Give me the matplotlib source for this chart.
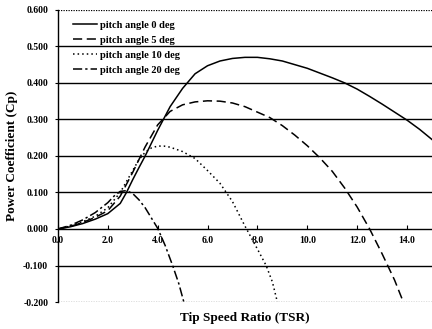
import matplotlib
matplotlib.use("Agg")
import matplotlib.pyplot as plt

plt.rcParams['font.family'] = ['Liberation Serif', 'DejaVu Serif']
plt.rcParams['font.weight'] = 'bold'
plt.rcParams['axes.unicode_minus'] = False

# (TSR, Cp)
tsr_0 = [0, 0.5, 1.0, 1.5, 2.0, 2.5, 2.75, 3.0, 3.25, 3.5, 4.0, 4.5, 5.0,
         5.5, 6.0, 6.5, 7.0, 7.5, 8.0, 8.5, 9.0, 9.5, 10.0, 10.5, 11.0,
         11.5, 12.0, 12.5, 13.0, 13.5, 14.0, 14.5, 15.0]
cp_0 = [0, 0.006, 0.015, 0.027, 0.042, 0.07, 0.1, 0.135, 0.168, 0.2, 0.27,
        0.335, 0.385, 0.425, 0.447, 0.46, 0.467, 0.47, 0.47, 0.466, 0.46,
        0.45, 0.44, 0.427, 0.414, 0.4, 0.383, 0.363, 0.342, 0.32, 0.298,
        0.273, 0.245]

tsr_5 = [0, 0.5, 1.0, 1.5, 2.0, 2.5, 3.0, 3.5, 4.0, 4.5, 5.0, 5.5, 6.0,
         6.5, 7.0, 7.5, 8.0, 8.5, 9.0, 9.5, 10.0, 10.5, 11.0, 11.5, 12.0,
         12.5, 13.0, 13.5, 13.85]
cp_5 = [0, 0.007, 0.018, 0.032, 0.05, 0.09, 0.155, 0.225, 0.285, 0.322,
        0.34, 0.348, 0.351, 0.35, 0.345, 0.335, 0.32, 0.305, 0.283, 0.257,
        0.228, 0.195, 0.158, 0.112, 0.06, 0.0, -0.068, -0.14, -0.2]

tsr_10 = [0, 0.5, 1.0, 1.5, 2.0, 2.5, 3.0, 3.25, 3.5, 3.75, 4.0, 4.25, 4.5,
          5.0, 5.5, 6.0, 6.5, 7.0, 7.5, 8.0, 8.35, 8.6, 8.8]
cp_10 = [0, 0.008, 0.02, 0.035, 0.058, 0.1, 0.16, 0.19, 0.21, 0.222, 0.227,
         0.227, 0.224, 0.212, 0.193, 0.16, 0.125, 0.075, 0.008, -0.055, -0.1,
         -0.145, -0.2]

tsr_20 = [0, 0.5, 1.0, 1.5, 2.0, 2.25, 2.5, 2.75, 3.0, 3.25, 3.5, 3.75, 4.0,
          4.3, 4.6, 4.85, 5.05]
cp_20 = [0, 0.01, 0.025, 0.045, 0.072, 0.09, 0.103, 0.105, 0.097, 0.08,
         0.058, 0.03, 0.002, -0.045, -0.1, -0.15, -0.2]

labels = ["pitch angle 0 deg", "pitch angle 5 deg", "pitch angle 10 deg",
          "pitch angle 20 deg"]
y_ticks = [-0.2, -0.1, 0.0, 0.1, 0.2, 0.3, 0.4, 0.5, 0.6]
x_ticks = [0, 2, 4, 6, 8, 10, 12, 14]

fig = plt.figure(figsize=[4.32, 3.29], dpi=100)
ax = fig.add_axes([0.134, 0.082, 0.866, 0.888])

# horizontal grid: solid inside, dotted at top and bottom
for y in y_ticks:
    if y in (-0.2, 0.6):
        ax.axhline(y, color="black", lw=0.9, ls=(0, (1, 1)), zorder=1)
    elif y != 0.0:
        ax.axhline(y, color="black", lw=1.0, zorder=1)

ax.plot(tsr_0, cp_0, color="black", lw=1.1, ls="-", label=labels[0])
ax.plot(tsr_5, cp_5, color="black", lw=1.1, ls=(0, (6, 3)), label=labels[1])
ax.plot(tsr_10, cp_10, color="black", lw=1.1, ls=(0, (1, 2)),
        label=labels[2])
ax.plot(tsr_20, cp_20, color="black", lw=1.1, ls=(0, (6, 2, 1.5, 2)),
        label=labels[3])

ax.set_xlim(0, 15)
ax.set_ylim(-0.2, 0.6)

ax.spines["top"].set_visible(False)
ax.spines["right"].set_visible(False)
ax.spines["bottom"].set_position(("data", 0))
ax.spines["bottom"].set_linewidth(1.0)
ax.spines["left"].set_linewidth(1.0)

ax.set_xticks(x_ticks)
ax.set_xticklabels(["%.1f" % v for v in x_ticks])
ax.set_yticks(y_ticks)
ax.set_yticklabels(["%.3f" % v for v in y_ticks])
ax.tick_params(axis="x", direction="in", length=3, labelsize=7, pad=5)
ax.tick_params(axis="y", direction="out", length=2, labelsize=7, pad=5)

fig.text(0.567, 0.033, "Tip Speed Ratio (TSR)", ha="center", va="center",
         fontsize=9.5, fontweight="bold")
fig.text(0.028, 0.526, "Power Coefficient (Cp)", ha="center", va="center",
         rotation=90, fontsize=9.5, fontweight="bold")

ax.legend(loc="upper left", bbox_to_anchor=(0.03, 0.978), frameon=False,
          fontsize=7.5, handlelength=2.3, handletextpad=0.3,
          labelspacing=0.55, borderaxespad=0)

fig.savefig("out.png", dpi=100)
